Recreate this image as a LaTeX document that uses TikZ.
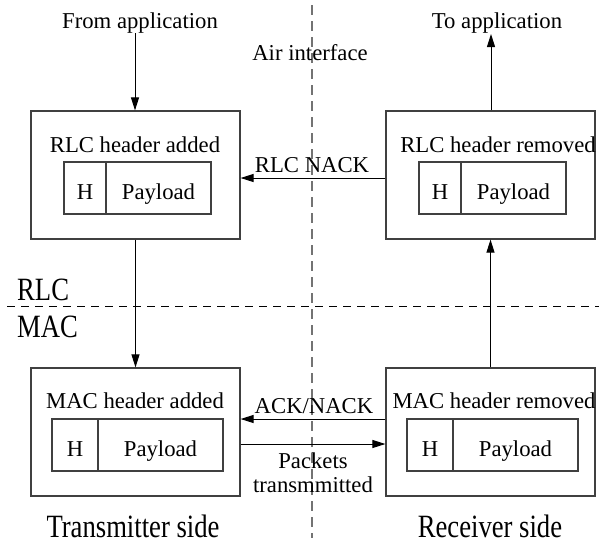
\documentclass[tikz,border=0pt]{standalone}
\usepackage{fontspec}
\setmainfont{Liberation Serif}
\newfontfamily\condfont[FakeStretch=0.82]{Liberation Serif}
\usetikzlibrary{arrows.meta}
\begin{document}
\begin{tikzpicture}[x=1pt,y=-1pt,
  every node/.style={font=\fontsize{22.7}{27}\selectfont, inner sep=0pt},
  box/.style={draw=black!75, line width=1.2pt, minimum width=209pt, minimum height=128pt},
  hbox/.style={draw=black!75, line width=1.1pt, minimum height=52pt},
  lbl/.style={anchor=base},
  big/.style={anchor=base, font=\condfont\fontsize{32.5}{36}\selectfont},
  arr/.style={line width=1pt, -{Triangle[length=13pt,width=8pt]}},
  vdash/.style={draw=black!55, line width=1.2pt, dash pattern=on 10pt off 6pt},
  hdash/.style={draw=black, line width=1pt, dash pattern=on 8pt off 6pt}]
\useasboundingbox (0,0) rectangle (599,544);
% separators
\coordinate (vt) at (312,5);
\coordinate (vb) at (312,538);
\coordinate (hl) at (7,306);
\coordinate (hr) at (599,306);
\draw[vdash] (vt) -- (vb);
\draw[hdash] (hl) -- (hr);
% outer boxes
\node[box] (rlcL) at (135.5,175) {};
\node[box] (rlcR) at (490.5,175) {};
\node[box] (macL) at (135.5,432) {};
\node[box] (macR) at (490.5,432) {};
% inner boxes
\node[hbox, minimum width=42pt] (hRL) at (85,188) {};
\node[hbox, minimum width=105pt] (pRL) at (158.5,188) {};
\node[hbox, minimum width=42pt] (hRR) at (440,188) {};
\node[hbox, minimum width=105pt] (pRR) at (513.5,188) {};
\node[hbox, minimum width=46pt] (hML) at (75,445) {};
\node[hbox, minimum width=125pt] (pML) at (160.5,445) {};
\node[hbox, minimum width=46pt] (hMR) at (430,445) {};
\node[hbox, minimum width=125pt] (pMR) at (515.5,445) {};
% inner texts
\node[lbl] (thRL) at (85,199) {H};
\node[lbl] (tpRL) at (158.5,199) {Payload};
\node[lbl] (thRR) at (440,199) {H};
\node[lbl] (tpRR) at (513.5,199) {Payload};
\node[lbl] (thML) at (75,456) {H};
\node[lbl] (tpML) at (160.5,456) {Payload};
\node[lbl] (thMR) at (430,456) {H};
\node[lbl] (tpMR) at (515.5,456) {Payload};
% titles
\node[lbl] (tRL) at (135,152) {RLC header added};
\node[lbl] (tRR) at (498,152) {RLC header removed};
\node[lbl] (tML) at (135,408) {MAC header added};
\node[lbl] (tMR) at (494,408) {MAC header removed};
% external labels
\node[lbl] (fromapp) at (140,28) {From application};
\node[lbl] (toapp) at (497,28) {To application};
\node[lbl] (air) at (310,60) {Air interface};
\node[lbl] (rlcnack) at (312,172) {RLC NACK};
\node[lbl] (acknack) at (314,413) {ACK/NACK};
\node[lbl, align=center] (pkts) at (313,492) {Packets\\[-3pt]transmmitted};
\node[big, anchor=base west] (rlcT) at (17,300) {RLC};
\node[big, anchor=base west] (macT) at (17,337) {MAC};
\node[big] (tx) at (133,537) {Transmitter side};
\node[big] (rx) at (490,537) {Receiver side};
% connectors
\coordinate (fa) at (135,33);
\coordinate (ta) at (491,34);
\draw[arr] (fa) -- (rlcL.north -| fa);
\draw[arr] (rlcR.north -| ta) -- (ta);
\draw[arr] ([yshift=-3pt]rlcR.west) -- ([yshift=-3pt]rlcL.east);
\draw[arr] (rlcL.south) -- (macL.north);
\draw[arr] (macR.north) -- (rlcR.south);
\draw[arr] ([yshift=13pt]macR.west) -- ([yshift=13pt]macL.east);
\draw[arr] ([yshift=-12pt]macL.east) -- ([yshift=-12pt]macR.west);
\end{tikzpicture}
\end{document}
